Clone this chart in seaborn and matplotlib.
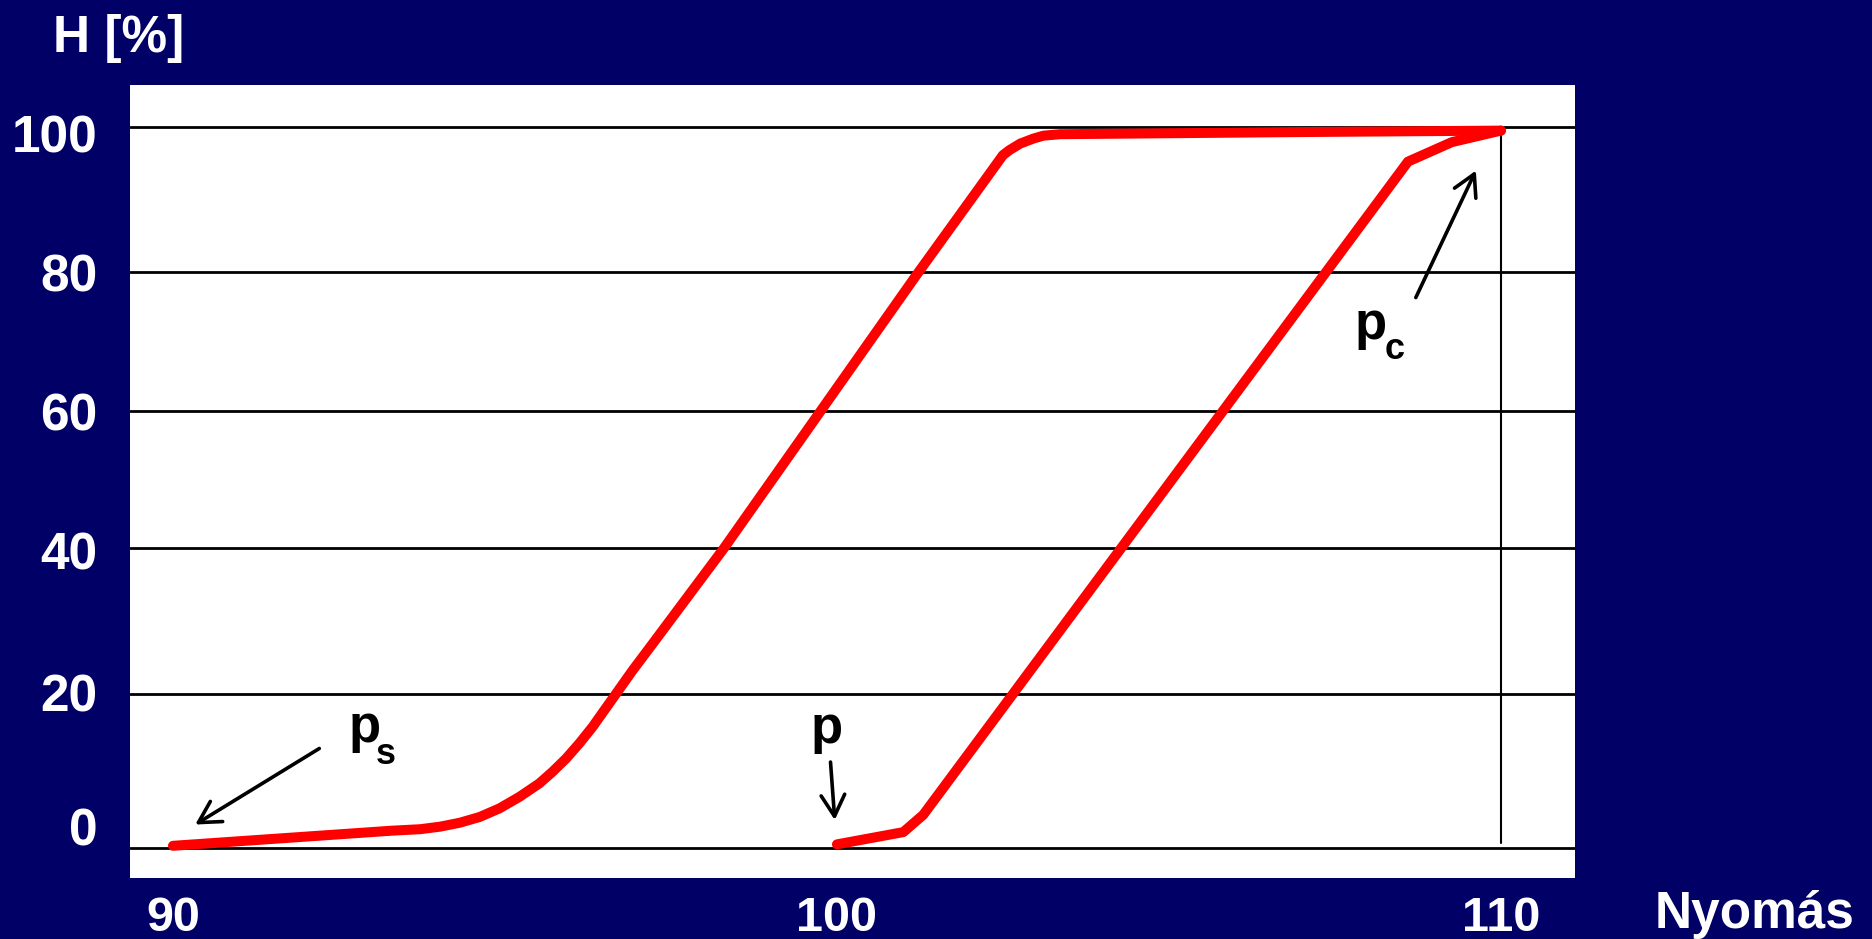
import pandas as pd
import seaborn as sns
import matplotlib.pyplot as plt

# hysteresis curves (pressure vs H [%])
p_up = [90.0, 93.3, 93.72, 94.02, 94.32, 94.62, 94.92, 95.22, 95.52, 95.72,
        95.92, 96.12, 96.32, 96.52, 96.72, 96.92, 97.23, 98.3, 99.8, 101.2,
        102.5, 102.6, 102.76, 102.96, 103.11, 103.36, 103.96, 107.0, 110.0]
h_up = [0.3, 2.4, 2.6, 2.95, 3.5, 4.3, 5.5, 7.1, 8.97, 10.6,
        12.4, 14.5, 16.8, 19.4, 22.0, 24.6, 28.4, 41.6, 61.2, 79.5,
        96.1, 96.8, 97.7, 98.4, 98.8, 99.0, 99.05, 99.3, 99.5]

p_down = [100.0, 101.0, 101.3, 108.6, 109.26, 110.0]
h_down = [0.5, 2.2, 4.6, 95.2, 97.9, 99.5]

# the grid lines of the original are drawn slightly unevenly
tick_labels = ['0', '20', '40', '60', '80', '100']
grid_levels = [0, 21.4, 41.6, 60.6, 79.9, 100]
x_ticks = [90, 100, 110]

bg = '#000066'

sns.set_theme(style='white')
plt.rcParams['font.family'] = ['Liberation Sans', 'DejaVu Sans']
plt.rcParams['font.weight'] = 'bold'

fig = plt.figure(figsize=(18.72, 9.39), dpi=100, facecolor=bg)
ax = fig.add_axes([0.0694, 0.0650, 0.7719, 0.8445])
ax.set_facecolor('white')

for y in grid_levels:
    ax.axhline(y, color='black', lw=2.0, zorder=1)
ax.plot([110, 110], [0.7, 100], color='black', lw=1.5, zorder=1)

df_up = pd.DataFrame({'p': p_up, 'h': h_up})
df_down = pd.DataFrame({'p': p_down, 'h': h_down})
sns.lineplot(data=df_up, x='p', y='h', ax=ax, color='#ff0000', lw=7.2,
             solid_capstyle='round', solid_joinstyle='round', zorder=3)
sns.lineplot(data=df_down, x='p', y='h', ax=ax, color='#ff0000', lw=7.2,
             solid_capstyle='round', solid_joinstyle='round', zorder=3)

ax.set_xlim(89.352, 111.114)
ax.set_ylim(-4.16, 105.83)
for s in ax.spines.values():
    s.set_visible(False)

ax.set_xticks(x_ticks)
ax.set_xticklabels([str(v) for v in x_ticks])
ax.tick_params(axis='x', length=0, pad=13, labelsize=35, labelcolor='white')
for lab in ax.get_xticklabels():
    lab.set_fontweight('bold')
ax.set_yticks([])
ax.set_xlabel('')
ax.set_ylabel('')

# y labels placed by hand like in the original slide
lab_x = [-0.0321, -0.0425, -0.0425, -0.0425, -0.0425, -0.0519]
lab_dy = [15.5, 0.5, -1.5, -0.5, -0.5, -5.0]
for txt, lev, lx, dy in zip(tick_labels, grid_levels, lab_x, lab_dy):
    ax.annotate(txt, xy=(lx, lev), xycoords=('axes fraction', 'data'),
                xytext=(0, dy), textcoords='offset points',
                ha='center', va='center_baseline', fontsize=37,
                fontweight='bold', color='white', annotation_clip=False)

arrow = dict(arrowstyle='->,head_length=0.45,head_width=0.25', lw=2.6,
             color='black', mutation_scale=34)
ax.annotate('', xy=(90.3, 3.05), xytext=(92.24, 14.0), arrowprops=arrow)
ax.annotate('', xy=(99.97, 3.5), xytext=(99.9, 12.3), arrowprops=arrow)
ax.annotate('', xy=(109.64, 94.3), xytext=(108.7, 76.0), arrowprops=arrow)

# "p" letters with their subscripts set a bit lower, as on the slide
labels = [('p', 's', 92.64, 14.7, 20, 16), ('p', '', 99.6, 14.5, 0, 0),
          ('p', 'c', 107.8, 70.6, 21.5, 14.5)]
for main, sub, lx, ly, sdx, sdy in labels:
    ax.text(lx, ly, main, fontsize=38, fontweight='bold', color='black',
            ha='left', va='baseline')
    if sub:
        ax.annotate(sub, xy=(lx, ly), xytext=(sdx, -sdy),
                    textcoords='offset points', fontsize=26,
                    fontweight='bold', color='black', ha='left',
                    va='baseline')

fig.text(53 / 1872, 1 - 52 / 939, 'H [%]', fontsize=37, fontweight='bold',
         color='white', ha='left', va='baseline')
fig.text(1655 / 1872, 1 - 928 / 939, 'Nyomás', fontsize=37, fontweight='bold',
         color='white', ha='left', va='baseline')

fig.savefig('out.png', dpi=100, facecolor=bg)
